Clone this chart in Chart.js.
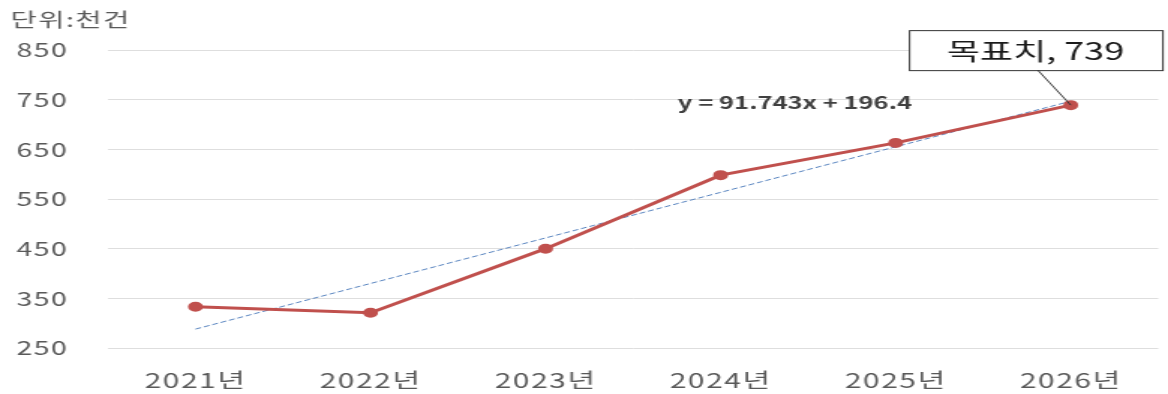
<!DOCTYPE html>
<html>
<head>
<meta charset="utf-8">
<script src="https://cdn.jsdelivr.net/npm/chart.js@4.4.1/dist/chart.umd.min.js"></script>
<style>
  html, body { margin: 0; padding: 0; background: #fff; overflow: hidden; }
  #trendChart { display: block; }
</style>
</head>
<body>
<!-- the original picture is stretched horizontally, so the canvas is drawn narrow and widened by css -->
<canvas id="trendChart" width="779" height="394" style="width:1168px;height:394px"></canvas>
<script>
// Chart data
const years = ['2021년', '2022년', '2023년', '2024년', '2025년', '2026년'];
const counts = [333, 321, 450, 598, 663, 739];
const trendValues = [288.1, 379.9, 471.6, 563.4, 655.1, 746.9];
const yTicks = [250, 350, 450, 550, 650, 750, 850];
const unitLabel = '단위:천건';
const equationLabel = 'y = 91.743x + 196.4';
const targetLabel = '목표치, 739';

const font = '"Noto Sans CJK KR", "Noto Sans", sans-serif';

// Draws unit label, trend equation and the target callout
const labelsPlugin = {
    id: 'labels',
    beforeDraw(chart) {
        // a little extra spacing, the original text is wide
        chart.ctx.letterSpacing = '1px';
    },
    afterDatasetsDraw(chart) {
        const ctx = chart.ctx;
        const meta = chart.getDatasetMeta(0);
        const last = meta.data[meta.data.length - 1];
        const px = last.x, py = last.y;

        ctx.save();
        // unit label
        ctx.fillStyle = '#595959';
        ctx.font = '19px ' + font;
        ctx.textAlign = 'left';
        ctx.textBaseline = 'middle';
        ctx.fillText(unitLabel, 7, 20);

        // equation
        ctx.letterSpacing = '0px';
        ctx.fillStyle = '#404040';
        ctx.font = 'bold 17px ' + font;
        ctx.textAlign = 'center';
        ctx.fillText(equationLabel, px - 184, py - 3);

        // callout leader line
        ctx.strokeStyle = '#333';
        ctx.lineWidth = 1;
        ctx.beginPath();
        ctx.moveTo(px - 22, py - 35);
        ctx.lineTo(px, py);
        ctx.stroke();

        // callout box
        const bx = px - 108, by = py - 75, bw = 169, bh = 40;
        ctx.fillStyle = '#fff';
        ctx.fillRect(bx, by, bw, bh);
        ctx.strokeStyle = '#333';
        ctx.strokeRect(bx + 0.5, by + 0.5, bw, bh);
        ctx.fillStyle = '#1a1a1a';
        ctx.font = '24px ' + font;
        ctx.textAlign = 'center';
        ctx.fillText(targetLabel, bx + bw / 2, by + bh / 2 + 1);
        ctx.restore();
    }
};

const ctx = document.getElementById('trendChart').getContext('2d');
new Chart(ctx, {
    type: 'line',
    data: {
        labels: years,
        datasets: [{
            label: '실적',
            data: counts,
            borderColor: '#c0504d',
            backgroundColor: '#c0504d',
            borderWidth: 3,
            pointRadius: 3.5,
            pointHoverRadius: 3.5,
            tension: 0
        }, {
            label: '추세선',
            data: trendValues,
            borderColor: '#5b86c0',
            borderWidth: 1,
            borderDash: [4, 2],
            pointRadius: 0,
            tension: 0
        }]
    },
    options: {
        responsive: false,
        animation: false,
        devicePixelRatio: 1,
        layout: {
            padding: { left: 11, right: 5, top: 50, bottom: 0 }
        },
        plugins: {
            legend: { display: false },
            tooltip: { enabled: false }
        },
        scales: {
            x: {
                offset: true,
                grid: { display: false },
                border: { display: false },
                ticks: {
                    color: '#595959',
                    font: { family: font, size: 20 },
                    padding: 12,
                    maxRotation: 0
                },
                afterFit(scale) { scale.height = 46; }
            },
            y: {
                min: 250,
                max: 850,
                afterBuildTicks(scale) {
                    scale.ticks = yTicks.map(v => ({ value: v }));
                },
                grid: {
                    color: '#dedede',
                    drawTicks: false
                },
                border: { display: false },
                ticks: {
                    color: '#595959',
                    font: { family: font, size: 19 },
                    crossAlign: 'far'
                },
                afterFit(scale) { scale.width = 61; }
            }
        }
    },
    plugins: [labelsPlugin]
});
</script>
</body>
</html>
